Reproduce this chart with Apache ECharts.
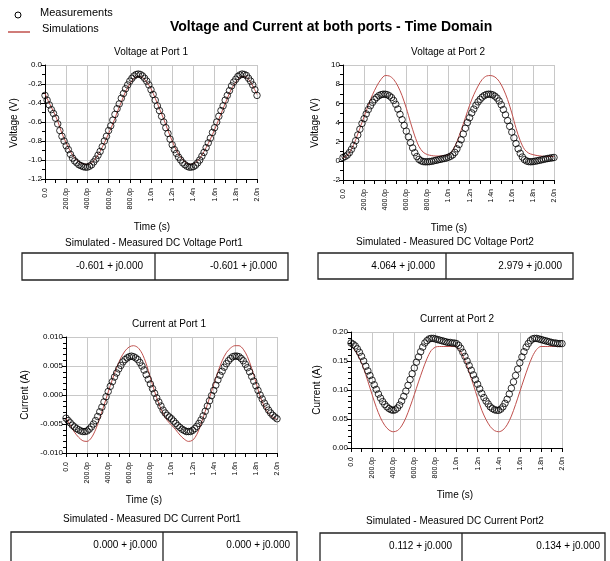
<!DOCTYPE html>
<html><head><meta charset="utf-8">
<script src="https://cdn.jsdelivr.net/npm/echarts@6/dist/echarts.min.js"></script>
<style>html,body{margin:0;padding:0;background:#fff}#c{width:610px;height:561px}</style>
</head><body><div id="c"></div>
<script>
// ---- data ----
const tMeas = [0,0.02,0.04,0.06,0.08,0.1,0.12,0.14,0.16,0.18,0.2,0.22,0.24,0.26,0.28,0.3,0.32,0.34,0.36,0.38,0.4,0.42,0.44,0.46,0.48,0.5,0.52,0.54,0.56,0.58,0.6,0.62,0.64,0.66,0.68,0.7,0.72,0.74,0.76,0.78,0.8,0.82,0.84,0.86,0.88,0.9,0.92,0.94,0.96,0.98,1,1.02,1.04,1.06,1.08,1.1,1.12,1.14,1.16,1.18,1.2,1.22,1.24,1.26,1.28,1.3,1.32,1.34,1.36,1.38,1.4,1.42,1.44,1.46,1.48,1.5,1.52,1.54,1.56,1.58,1.6,1.62,1.64,1.66,1.68,1.7,1.72,1.74,1.76,1.78,1.8,1.82,1.84,1.86,1.88,1.9,1.92,1.94,1.96,1.98,2];
const tSim = [0,0.04,0.08,0.12,0.16,0.2,0.24,0.28,0.32,0.36,0.4,0.44,0.48,0.52,0.56,0.6,0.64,0.68,0.72,0.76,0.8,0.84,0.88,0.92,0.96,1,1.04,1.08,1.12,1.16,1.2,1.24,1.28,1.32,1.36,1.4,1.44,1.48,1.52,1.56,1.6,1.64,1.68,1.72,1.76,1.8,1.84,1.88,1.92,1.96,2];

const v1Meas = [-0.32,-0.37,-0.42,-0.47,-0.51,-0.56,-0.62,-0.69,-0.75,-0.80,
-0.85,-0.89,-0.94,-0.98,-1.01,-1.03,-1.05,-1.06,-1.07,-1.075,
-1.075,-1.065,-1.05,-1.02,-0.99,-0.95,-0.91,-0.86,-0.80,-0.75,
-0.69,-0.64,-0.58,-0.52,-0.46,-0.41,-0.35,-0.30,-0.25,-0.21,
-0.17,-0.14,-0.115,-0.10,-0.095,-0.10,-0.115,-0.14,-0.17,-0.21,
-0.26,-0.31,-0.37,-0.43,-0.48,-0.54,-0.60,-0.66,-0.72,-0.78,
-0.84,-0.89,-0.93,-0.97,-1.00,-1.03,-1.05,-1.065,-1.075,-1.075,
-1.07,-1.055,-1.03,-1.00,-0.96,-0.92,-0.87,-0.82,-0.77,-0.71,
-0.66,-0.60,-0.54,-0.48,-0.43,-0.37,-0.32,-0.27,-0.22,-0.18,
-0.15,-0.12,-0.105,-0.095,-0.10,-0.11,-0.14,-0.17,-0.21,-0.26,
-0.32];
const v1Sim = [-0.30,-0.40,-0.49,-0.59,-0.72,-0.82,-0.91,-0.98,-1.02,-1.04,
-1.045,-1.03,-0.98,-0.91,-0.82,-0.72,-0.62,-0.50,-0.39,-0.28,
-0.20,-0.14,-0.12,-0.13,-0.18,-0.25,-0.35,-0.46,-0.57,-0.69,
-0.80,-0.90,-0.97,-1.02,-1.045,-1.04,-1.01,-0.95,-0.87,-0.78,
-0.68,-0.57,-0.46,-0.35,-0.25,-0.18,-0.13,-0.12,-0.15,-0.22,
-0.31];

const v2Meas = [0.35,0.45,0.6,0.85,1.2,1.6,2.1,2.7,3.3,3.9,
4.4,4.9,5.35,5.75,6.1,6.4,6.62,6.8,6.9,6.95,
6.95,6.9,6.78,6.6,6.3,5.9,5.4,4.85,4.3,3.7,
3.1,2.5,1.9,1.35,0.85,0.45,0.15,0.0,-0.08,-0.1,
-0.1,-0.08,-0.05,0.0,0.05,0.1,0.15,0.2,0.25,0.3,
0.38,0.48,0.62,0.88,1.25,1.7,2.2,2.8,3.4,4.0,
4.5,5.0,5.4,5.8,6.15,6.42,6.65,6.82,6.92,6.96,
6.94,6.88,6.75,6.55,6.25,5.85,5.35,4.8,4.2,3.6,
3.0,2.4,1.8,1.25,0.78,0.4,0.12,-0.02,-0.08,-0.1,
-0.08,-0.04,0.0,0.05,0.1,0.15,0.2,0.24,0.28,0.32,
0.35];
const v2Sim = [0.3,0.55,1.2,2.2,3.4,4.6,5.8,6.9,7.8,8.5,
8.9,8.85,8.5,7.8,6.8,5.5,4.0,2.6,1.5,0.9,
0.65,0.55,0.5,0.5,0.55,0.65,1.1,2.0,3.2,4.5,
5.8,6.9,7.8,8.5,8.85,8.9,8.75,8.3,7.5,6.4,
5.0,3.4,2.1,1.2,0.8,0.65,0.55,0.5,0.45,0.45,
0.45];

const v3Meas = [-0.0040,-0.0044,-0.0048,-0.0052,-0.0055,-0.0058,-0.0060,-0.0062,-0.0063,-0.0063,
-0.0062,-0.0059,-0.0055,-0.0050,-0.0044,-0.0037,-0.0029,-0.0021,-0.0012,-0.0003,
0.0006,0.0015,0.0023,0.0031,0.0038,0.0045,0.0051,0.0057,0.0061,0.0064,
0.0066,0.0067,0.0066,0.0064,0.0061,0.0056,0.0050,0.0043,0.0035,0.0027,
0.0019,0.0011,0.0003,-0.0005,-0.0012,-0.0019,-0.0026,-0.0031,-0.0035,-0.0038,
-0.0041,-0.0045,-0.0049,-0.0053,-0.0056,-0.0059,-0.0061,-0.0063,-0.0063,-0.0063,
-0.0061,-0.0058,-0.0054,-0.0049,-0.0043,-0.0036,-0.0028,-0.0019,-0.0010,-0.0001,
0.0008,0.0017,0.0026,0.0034,0.0041,0.0048,0.0054,0.0059,0.0063,0.0066,
0.0067,0.0067,0.0066,0.0063,0.0059,0.0053,0.0047,0.0040,0.0032,0.0024,
0.0016,0.0008,0.0000,-0.0007,-0.0014,-0.0020,-0.0026,-0.0031,-0.0035,-0.0038,
-0.0041];
const v3Sim = [-0.0040,-0.0052,-0.0064,-0.0073,-0.0079,-0.0080,-0.0074,-0.0060,-0.0040,-0.0018,
0.0005,0.0027,0.0047,0.0064,0.0076,0.0083,0.0085,0.0082,0.0072,0.0054,
0.0030,0.0006,-0.0015,-0.0032,-0.0044,-0.0052,-0.0060,-0.0069,-0.0076,-0.0080,
-0.0078,-0.0068,-0.0050,-0.0028,-0.0005,0.0018,0.0040,0.0059,0.0073,0.0081,
0.0085,0.0085,0.0079,0.0066,0.0046,0.0022,-0.0002,-0.0020,-0.0032,-0.0038,
-0.0042];

const v4Meas = [0.181,0.179,0.176,0.171,0.165,0.158,0.150,0.141,0.133,0.125,
0.117,0.109,0.101,0.093,0.086,0.080,0.075,0.071,0.068,0.066,
0.065,0.066,0.069,0.074,0.081,0.089,0.098,0.108,0.118,0.128,
0.138,0.148,0.157,0.166,0.174,0.181,0.185,0.188,0.189,0.189,
0.188,0.187,0.186,0.185,0.184,0.183,0.182,0.182,0.181,0.181,
0.180,0.177,0.172,0.165,0.158,0.150,0.142,0.134,0.126,0.118,
0.110,0.102,0.094,0.087,0.081,0.076,0.071,0.068,0.066,0.065,
0.065,0.067,0.071,0.077,0.084,0.093,0.103,0.114,0.125,0.136,
0.147,0.157,0.166,0.174,0.180,0.185,0.188,0.189,0.189,0.188,
0.187,0.186,0.185,0.184,0.183,0.182,0.181,0.181,0.180,0.180,
0.180];
const v4Sim = [0.176,0.168,0.155,0.137,0.115,0.092,0.070,0.052,0.039,0.031,
0.028,0.030,0.038,0.052,0.071,0.092,0.114,0.135,0.154,0.168,
0.174,0.175,0.175,0.175,0.175,0.174,0.166,0.151,0.131,0.109,
0.086,0.065,0.049,0.037,0.030,0.028,0.031,0.040,0.055,0.075,
0.097,0.119,0.140,0.158,0.170,0.175,0.175,0.175,0.175,0.175,
0.175];

const xTickLabels = ["0.0","200.0p","400.0p","600.0p","800.0p","1.0n","1.2n","1.4n","1.6n","1.8n","2.0n"];
const yTicks1 = ["-1.2","-1.0","-0.8","-0.6","-0.4","-0.2","0.0"];
const yTicks2 = ["-2","0","2","4","6","8","10"];
const yTicks3 = ["-0.010","-0.005","0.000","0.005","0.010"];
const yTicks4 = ["0.00","0.05","0.10","0.15","0.20"];

const plotTitles = ["Voltage at Port 1","Voltage at Port 2","Current at Port 1","Current at Port 2"];
const yNames = ["Voltage (V)","Voltage (V)","Current (A)","Current (A)"];
const dcTitles = ["Simulated - Measured DC Voltage Port1","Simulated - Measured DC Voltage Port2","Simulated - Measured DC Current Port1","Simulated - Measured DC Current Port2"];
const dcValues = [["-0.601 + j0.000","-0.601 + j0.000"],["4.064 + j0.000","2.979 + j0.000"],["0.000 + j0.000","0.000 + j0.000"],["0.112 + j0.000","0.134 + j0.000"]];
const mainTitle = "Voltage and Current at both ports - Time Domain";
const legendNames = ["Measurements","Simulations"];

// ---- layout ----
const FONT = '"Liberation Sans", Arial, sans-serif';
const SIMC = '#c0504d';
const panels = [
  {grid:{left:45,top:65,width:212,height:114}, y:{min:-1.2,max:0,interval:0.2,minor:2,labels:yTicks1}, meas:v1Meas, sim:v1Sim,
   title:[151,52], yName:[14,123], tName:[152,227], dcT:[154,243], box:[22,253,266,27], div:155, vals:[143,277], valY:266},
  {grid:{left:343,top:65,width:211,height:115}, y:{min:-2,max:10,interval:2,minor:2,labels:yTicks2}, meas:v2Meas, sim:v2Sim,
   title:[448,52], yName:[315,123], tName:[449,228], dcT:[445,242], box:[318,253,255,26], div:446, vals:[435,562], valY:266},
  {grid:{left:66,top:337,width:211,height:116}, y:{min:-0.01,max:0.01,interval:0.005,minor:5,labels:yTicks3}, meas:v3Meas, sim:v3Sim,
   title:[169,324], yName:[25,395], tName:[144,500], dcT:[152,519], box:[11,532,286,40], div:163, vals:[157,290], valY:545},
  {grid:{left:351,top:332,width:211,height:116}, y:{min:0,max:0.2,interval:0.05,minor:5,labels:yTicks4}, meas:v4Meas, sim:v4Sim,
   title:[457,319], yName:[317,390], tName:[455,495], dcT:[455,521], box:[320,533,285,40], div:462, vals:[452,600], valY:546}
];

const grids=[], xAxes=[], yAxes=[], series=[], graphics=[];
panels.forEach((p,i)=>{
  grids.push(Object.assign({containLabel:false}, p.grid));
  xAxes.push({type:'value', gridIndex:i, min:0, max:2, interval:0.2,
    axisLine:{show:true, onZero:false, lineStyle:{color:'#000',width:1}},
    axisTick:{show:true, length:4, lineStyle:{color:'#000'}},
    minorTick:{show:true, splitNumber:2, length:4, lineStyle:{color:'#000'}},
    splitLine:{show:true, lineStyle:{color:'#c8c8c8',width:1}},
    axisLabel:{rotate:90, fontSize:7, margin:9, color:'#000', fontFamily:FONT,
      formatter:(v)=>xTickLabels[Math.round(v/0.2)]}});
  const yl = p.y;
  yAxes.push({type:'value', gridIndex:i, min:yl.min, max:yl.max, interval:yl.interval,
    axisLine:{show:true, onZero:false, lineStyle:{color:'#000',width:1}},
    axisTick:{show:true, length:4, lineStyle:{color:'#000'}},
    minorTick:{show:true, splitNumber:yl.minor, length:3, lineStyle:{color:'#000'}},
    splitLine:{show:true, lineStyle:{color:'#c8c8c8',width:1}},
    axisLabel:{fontSize:8, margin:3, color:'#000', fontFamily:FONT,
      formatter:(v)=>yl.labels[Math.round((v-yl.min)/yl.interval)]}});
  series.push({name:'Simulations', type:'line', xAxisIndex:i, yAxisIndex:i,
    data:tSim.map((t,j)=>[t,p.sim[j]]), showSymbol:false, smooth:0.3, z:2,
    lineStyle:{color:SIMC,width:1}, silent:true, animation:false});
  series.push({name:'Measurements', type:'scatter', xAxisIndex:i, yAxisIndex:i,
    data:tMeas.map((t,j)=>[t,p.meas[j]]), symbol:'circle', symbolSize:6.5, clip:false, z:3,
    itemStyle:{color:'rgba(0,0,0,0)', borderColor:'#000', borderWidth:1}, silent:true, animation:false});

  const txt=(x,y,text,size,extra)=>Object.assign({type:'text', x, y, silent:true,
    style:{text, font:size+'px '+FONT, fill:'#000', align:'center', verticalAlign:'middle'}}, extra||{});
  graphics.push(txt(p.title[0],p.title[1],plotTitles[i],10));
  graphics.push(txt(p.yName[0],p.yName[1],yNames[i],10,{rotation:Math.PI/2}));
  graphics.push(txt(p.tName[0],p.tName[1],'Time (s)',10));
  graphics.push(txt(p.dcT[0],p.dcT[1],dcTitles[i],10));
  graphics.push({type:'rect', silent:true, shape:{x:p.box[0],y:p.box[1],width:p.box[2],height:p.box[3]},
    style:{fill:'none', stroke:'#222', lineWidth:1.3}});
  graphics.push({type:'line', silent:true, shape:{x1:p.div,y1:p.box[1],x2:p.div,y2:p.box[1]+p.box[3]},
    style:{stroke:'#222', lineWidth:1.3}});
  p.vals.forEach((vx,k)=>{
    graphics.push({type:'text', x:vx, y:p.valY, silent:true,
      style:{text:dcValues[i][k], font:'10px '+FONT, fill:'#000', align:'right', verticalAlign:'middle'}});
  });
});

// legend + main title
graphics.push({type:'circle', silent:true, shape:{cx:18,cy:15,r:3}, style:{fill:'none',stroke:'#000',lineWidth:1}});
graphics.push({type:'text', x:40, y:13, silent:true, style:{text:legendNames[0], font:'11px '+FONT, fill:'#000', align:'left', verticalAlign:'middle'}});
graphics.push({type:'line', silent:true, shape:{x1:8,y1:32,x2:30,y2:32}, style:{stroke:SIMC,lineWidth:1.5}});
graphics.push({type:'text', x:42, y:29, silent:true, style:{text:legendNames[1], font:'11px '+FONT, fill:'#000', align:'left', verticalAlign:'middle'}});
graphics.push({type:'text', x:170, y:27, silent:true, style:{text:mainTitle, font:'bold 14px '+FONT, fill:'#000', align:'left', verticalAlign:'middle'}});

const chart = echarts.init(document.getElementById('c'), null, {renderer:'canvas'});
chart.setOption({animation:false, backgroundColor:'#fff', grid:grids, xAxis:xAxes, yAxis:yAxes, series, graphic:graphics});
</script></body></html>
